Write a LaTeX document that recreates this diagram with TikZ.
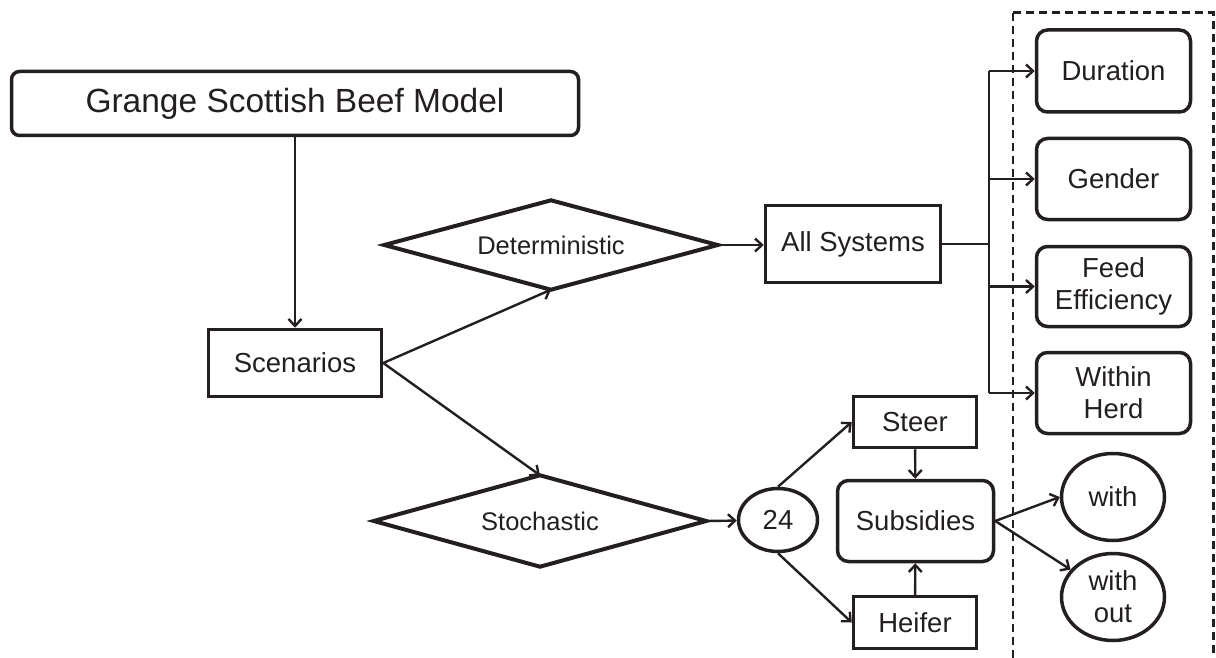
\documentclass[tikz,border=0pt]{standalone}
\usepackage{fontspec}
\setmainfont{Liberation Sans}
\usetikzlibrary{arrows.meta,shapes.geometric}
\definecolor{ink}{HTML}{231F20}
\begin{document}
\begin{tikzpicture}[x=1pt,y=-1pt,
  every node/.style={inner sep=0pt, text=ink, align=center,
    font=\fontsize{27.5}{32}\selectfont},
  box/.style={draw=ink, line width=3.5pt, rectangle},
  rbox/.style={box, rounded corners=11pt},
  dia/.style={rectangle, font=\fontsize{25.5}{30}\selectfont},
  diaedge/.style={draw=ink, line width=4pt, line join=miter},
  oval/.style={draw=ink, line width=3.5pt, ellipse},
  wire/.style={draw=ink, line width=2.4pt},
  conn/.style={wire, -{Straight Barb[length=7pt,width=13pt,line width=2.4pt]}},
  frame/.style={draw=ink, dash pattern=on 8pt off 5pt}
]
\useasboundingbox (0,0) rectangle (1216,658);

% main chain
\node[rbox, rounded corners=8pt, minimum width=567pt, minimum height=64pt,
  font=\fontsize{33.5}{38}\selectfont] (model) at (295,103.5) {Grange Scottish Beef Model};
\node[box, minimum width=173pt, minimum height=67pt] (scen) at (295,363) {Scenarios};
\node[dia, minimum width=333pt, minimum height=89pt] (det) at (551,245) {Deterministic};
\node[dia, minimum width=332pt, minimum height=91pt] (sto) at (540,521) {Stochastic};
\draw[diaedge] (det.west) -- (det.north) -- (det.east) -- (det.south) -- cycle;
\draw[diaedge] (sto.west) -- (sto.north) -- (sto.east) -- (sto.south) -- cycle;

% deterministic branch
\node[box, minimum width=175pt, minimum height=77pt] (all) at (853,244) {All Systems};
\node[rbox, minimum width=154pt, minimum height=82pt] (dur) at (1113.5,71) {Duration};
\node[rbox, minimum width=154pt, minimum height=81pt] (gen) at (1113.5,179) {Gender};
\node[rbox, minimum width=154pt, minimum height=80pt] (feed) at (1113.5,286.5) {Feed\\Efficiency};
\node[rbox, minimum width=154pt, minimum height=81pt] (herd) at (1113.5,393) {Within\\Herd};

% stochastic branch
\node[oval, minimum width=79pt, minimum height=63pt] (n24) at (778,520) {24};
\node[box, minimum width=123pt, minimum height=51pt] (steer) at (915,422) {Steer};
\node[box, minimum width=123pt, minimum height=52pt] (heifer) at (915,622.5) {Heifer};
\node[rbox, minimum width=156pt, minimum height=81pt] (subs) at (915.5,521) {Subsidies};
\node[oval, minimum width=103pt, minimum height=87pt] (with) at (1113,497) {with};
\node[oval, minimum width=103pt, minimum height=87pt] (without) at (1113,597) {with\\out};

% connectors
\draw[conn] (model) -- (scen);
\draw[conn] (scen.east) -- (det.south);
\draw[conn] (scen.east) -- (sto.north);
\draw[conn] (det.east) -- (det.east -| all.west);
\draw[conn] (sto.east) -- (n24);

\coordinate (trunk) at (989,244);
\draw[wire] (all.east) -- (trunk);
\draw[wire] (trunk |- dur) -- (trunk |- herd);
\draw[conn] (trunk |- dur) -- (dur.west);
\draw[conn] (trunk |- gen) -- (gen.west);
\draw[conn] (trunk |- feed) -- (feed.west);
\draw[conn] (trunk |- herd) -- (herd.west);

\draw[conn] (n24.north) -- (steer.west);
\draw[conn] (n24.south) -- (heifer.west);
\draw[conn] (steer) -- (subs);
\draw[conn] (heifer) -- (subs);
\draw[conn] (subs.east) -- (with.west);
\draw[conn] (subs.east) -- (without);

% dashed frame, open at the bottom
\draw[frame, line width=2.2pt] (1013,658) -- (1013,13);
\draw[frame, line width=3pt] (1013,13) -- (1213,13) -- (1213,658);
\end{tikzpicture}
\end{document}
